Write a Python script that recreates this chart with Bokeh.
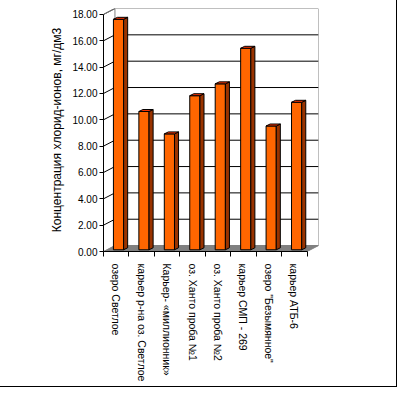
from bokeh.plotting import figure
from bokeh.models import LinearAxis, FixedTicker, NumeralTickFormatter, Range1d
from bokeh.embed import file_html
from bokeh.resources import INLINE

categories = ["озеро Светлое", "карьер р-на оз. Светлое", "Карьер- «миллионник»",
              "оз. Ханто проба №1", "оз. Ханто проба №2", "карьер СМП - 269",
              "озеро \"Безымянное\"", "карьер АТБ-6"]
values = [17.5, 10.5, 8.8, 11.7, 12.6, 15.3, 9.4, 11.2]
y_ticks = [0, 2, 4, 6, 8, 10, 12, 14, 16, 18]
y_title = "Концентрация хлорид-ионов, мг/дм3"

FONT = "Liberation Sans"
n = len(categories)
ymax = y_ticks[-1]
# 3D styling offsets (data units)
wdx, wdy = 0.45, 0.45      # wall depth
bdx, bdy = 0.16, 0.15      # bar depth
bshift, boff, hw = 0.09, 0.13, 0.2

W, H = 400, 390
FL, FT, FW, FH = 105, 10, 215, 243
p = figure(width=W, height=H, output_backend="svg", toolbar_location=None,
           x_range=Range1d(-0.5, n - 0.5 + wdx), y_range=Range1d(0, ymax + wdy),
           min_border_left=FL, min_border_right=W - FL - FW, min_border_top=FT,
           min_border_bottom=H - FT - FH,
           x_axis_location=None, y_axis_location=None)
p.styles = {"border": "1px solid black", "margin-left": "-3px", "margin-top": "-3px"}
p.xgrid.visible = False
p.ygrid.visible = False
p.outline_line_color = None
p.background_fill_color = "white"
p.border_fill_color = "white"

x0, x1 = -0.5, n - 0.5
# back wall
p.patch([x0 + wdx, x1 + wdx, x1 + wdx, x0 + wdx], [wdy, wdy, ymax + wdy, ymax + wdy],
        fill_color="white", line_color="#808080", line_width=1)
# gridlines on back wall
gt = y_ticks[1:-1]
p.multi_line([[x0 + wdx, x1 + wdx] for _ in gt], [[t + wdy, t + wdy] for t in gt],
             line_color="black", line_width=1)
# floor
p.patch([x0, x1, x1 + wdx, x0 + wdx], [0, 0, wdy, wdy],
        fill_color="#808080", line_color="#808080", line_width=1)
# slanted ticks on left side wall
p.multi_line([[x0, x0 + wdx] for _ in y_ticks[1:]], [[t, t + wdy] for t in y_ticks[1:]],
             line_color="black", line_width=1)
p.line([x0, x0 + wdx], [ymax, ymax + wdy], line_color="#808080")

# bars
cx = [i + bshift for i in range(n)]
tops = [v + boff for v in values]
p.quad(left=[c - hw for c in cx], right=[c + hw for c in cx], bottom=boff, top=tops,
       fill_color="#FF6600", line_color="black", line_width=1)
p.patches([[c + hw, c + hw, c + hw + bdx, c + hw + bdx] for c in cx],
          [[boff, t, t + bdy, boff + bdy] for t in tops],
          fill_color="#993300", line_color="black", line_width=1)
p.patches([[c - hw, c + hw, c + hw + bdx, c - hw + bdx] for c in cx],
          [[t, t, t + bdy, t + bdy] for t in tops],
          fill_color="#FF3300", line_color="black", line_width=1)

# axes
ya = LinearAxis(ticker=FixedTicker(ticks=y_ticks), formatter=NumeralTickFormatter(format="0.00"),
                bounds=(0, ymax), axis_label=y_title)
ya.major_tick_out = 4
ya.major_tick_in = 0
ya.minor_tick_out = 0
ya.minor_tick_in = 0
ya.major_label_standoff = 2
ya.axis_label_standoff = 5
ya.major_label_text_font = FONT
ya.major_label_text_font_size = "10px"
ya.major_label_text_color = "black"
ya.axis_label_text_font = FONT
ya.axis_label_text_font_size = "12px"
ya.axis_label_text_font_style = "normal"
ya.axis_label_text_color = "black"
ya.axis_line_color = "black"
p.add_layout(ya, "left")

xa = LinearAxis(ticker=FixedTicker(ticks=list(range(n)), minor_ticks=[i - 0.5 for i in range(n + 1)]),
                bounds=(x0, x1))
xa.major_label_overrides = {i: c for i, c in enumerate(categories)}
xa.major_label_orientation = "vertical"
xa.major_tick_out = 0
xa.major_tick_in = 0
xa.minor_tick_out = 5
xa.minor_tick_in = 0
xa.minor_tick_line_color = "black"
xa.major_label_standoff = 7
xa.major_label_text_font = FONT
xa.major_label_text_font_size = "10.5px"
xa.major_label_text_color = "black"
xa.axis_line_color = "black"
p.add_layout(xa, "below")

open("out.html", "w").write(file_html(p, INLINE))
